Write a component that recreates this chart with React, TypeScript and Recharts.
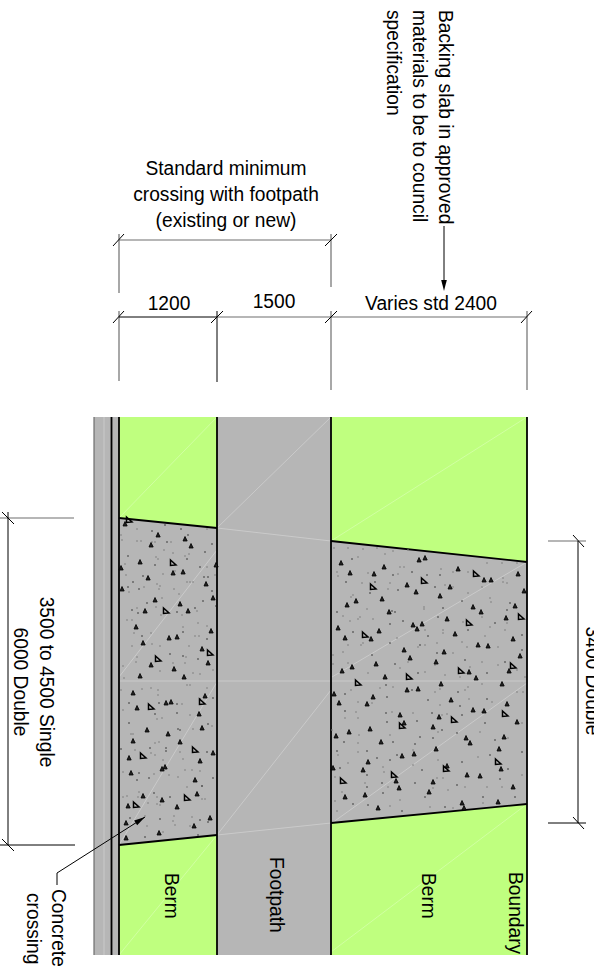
import { ComposedChart, XAxis, YAxis, Area, Line, Scatter } from 'recharts';

const WIDTH = 594;
const HEIGHT = 968;
const BLACK = '#000000';
const DIM = '#6e6e6e';
const GREY_FILL = '#b6b6b6';
const GREEN_FILL = '#bfff7f';
const FONT = '"Liberation Sans", Arial, sans-serif';

// [x, top, bottom] in drawing units
const greyStrips = [
  [[94, 417, 955], [217, 417, 955]],
  [[217, 417, 955], [331, 417, 955]],
];
const greenStrips = [
  [[119, 417, 955], [217, 417, 955]],
  [[331, 417, 955], [527, 417, 955]],
];
const crossings = [
  [[119, 518, 845], [217, 528, 835]],
  [[331, 541, 823], [527, 562, 804]],
];

const blackLines = [
  [[111.5, 417], [111.5, 955]],
  [[119, 417], [119, 955]],
  [[217, 417], [217, 955]],
  [[331, 417], [331, 955]],
  [[527, 417], [527, 955]],
  [[119, 518], [217, 528]],
  [[119, 845], [217, 835]],
  [[331, 541], [527, 562]],
  [[331, 823], [527, 804]],
];
const thinBlackLines = [
  [[119, 317], [217, 317]],
  [[217, 311], [217, 382]],
  [[113, 323], [124, 311]],
  [[211, 323], [223, 311]],
  [[325, 323], [337, 311]],
  [[521, 323], [532, 311]],
  [[113, 246], [124, 234]],
  [[325, 246], [337, 234]],
  [[444, 226], [444, 284]],
  [[8, 512], [8, 845]],
  [[0, 845], [75, 845]],
  [[2, 839], [14, 851]],
  [[2, 512], [14, 524]],
  [[578, 541], [578, 823]],
  [[548, 823], [586, 823]],
  [[573, 535], [584, 547]],
  [[573, 817], [584, 829]],
  [[145, 817], [57, 873]],
  [[57, 873], [57, 885]],
];
const dimLines = [
  [[94, 417], [94, 955]],
  [[119, 240], [331, 240]],
  [[119, 234], [119, 293]],
  [[331, 234], [331, 287]],
  [[217, 317], [527, 317]],
  [[119, 311], [119, 381]],
  [[331, 311], [331, 390]],
  [[527, 311], [527, 390]],
  [[0, 518], [74, 518]],
  [[548, 541], [586, 541]],
];
const paleLines = [
  [[104, 417], [104, 955]],
  [[119, 518], [217, 417]],
  [[217, 528], [331, 417]],
  [[331, 541], [527, 417]],
  [[217, 528], [331, 541]],
  [[119, 677], [217, 550]],
  [[332, 677], [527, 562]],
  [[119, 681], [527, 681]],
  [[217, 835], [331, 690]],
  [[119, 845], [217, 682]],
  [[332, 823], [527, 683]],
  [[217, 835], [331, 823]],
  [[217, 835], [119, 955]],
  [[527, 804], [331, 952]],
];

const arrowHeads = [
  { x: 444, y: 291, angle: 0 },
  { x: 145, y: 817, angle: -122 },
];

const smallTriangles = [
  [125, 524], [158, 535], [185, 539], [151, 545], [191, 546], [140, 562], [121, 568], [173, 573], [183, 572], [148, 578],
  [206, 584], [122, 589], [216, 565], [213, 598], [155, 600], [180, 604], [145, 611], [188, 611], [136, 627], [211, 631],
  [169, 638], [177, 637], [143, 643], [202, 649], [151, 665], [208, 663], [174, 669], [140, 676], [184, 677],
  [133, 693], [205, 696], [166, 703], [171, 702], [137, 708], [199, 714], [202, 728], [147, 730], [168, 734], [133, 741],
  [180, 742], [213, 753], [129, 758], [200, 761], [165, 767], [162, 769], [131, 773], [195, 780], [197, 794], [143, 796],
  [162, 800], [128, 806], [177, 807], [210, 818], [126, 823], [194, 826], [159, 833], [126, 838],
  [419, 560], [425, 558], [341, 563], [384, 567], [458, 569], [350, 573], [374, 574], [518, 574], [484, 580], [491, 580],
  [407, 585], [450, 587], [524, 591], [416, 592], [440, 596], [382, 599], [356, 601], [347, 605], [515, 606], [473, 607],
  [389, 612], [481, 612], [506, 618], [447, 619], [422, 624], [413, 625], [338, 628], [417, 629], [379, 631], [455, 634],
  [345, 638], [371, 639], [513, 639], [478, 645], [488, 646], [404, 650], [444, 652], [520, 656], [410, 658], [436, 662],
  [376, 664], [352, 667], [342, 671], [469, 672], [509, 671], [385, 677], [476, 678],
  [441, 684], [502, 684], [334, 694], [407, 690], [418, 689], [373, 697], [451, 700], [339, 703], [367, 704], [507, 704],
  [473, 710], [484, 711], [400, 715], [439, 717], [517, 722], [404, 723], [433, 727], [370, 729], [349, 732], [336, 736],
  [504, 737], [466, 738], [381, 742], [470, 743], [499, 749], [436, 749], [414, 754], [402, 756], [368, 762], [447, 766],
  [333, 768], [363, 770], [501, 769], [467, 775], [480, 776], [396, 781], [433, 782], [399, 788], [513, 787], [429, 792],
  [365, 795], [345, 797], [462, 803], [498, 802], [378, 808], [464, 808],
];
const largeTriangles = [
  [129, 520], [173, 563], [166, 611], [158, 659], [210, 653], [136, 805], [151, 707], [202, 702], [195, 750], [143, 756], [187, 798],
  [476, 574], [424, 581], [373, 587], [365, 635], [469, 623], [521, 617], [461, 671], [513, 666], [409, 677], [358, 683],
  [505, 714], [454, 720], [402, 726], [498, 762], [446, 769], [394, 775], [343, 781],
];
const darkSpecks = [
  [152, 531], [165, 525], [181, 529], [167, 542], [188, 535], [212, 544], [205, 552], [128, 556], [187, 559], [155, 565], [200, 567],
  [143, 576], [133, 582], [208, 577], [204, 577], [128, 587], [139, 589], [212, 591], [147, 603], [203, 601], [216, 606], [132, 610],
  [177, 612], [195, 608], [138, 613], [183, 632], [142, 636], [207, 639], [170, 654], [183, 656], [198, 659],
  [129, 703], [159, 703], [177, 704], [200, 699], [213, 698], [155, 714], [177, 713], [129, 723], [178, 729], [180, 730], [208, 724],
  [121, 749], [150, 748], [166, 748], [166, 751], [207, 752], [119, 768], [139, 773], [149, 778], [213, 778], [137, 780], [202, 786],
  [154, 793], [170, 797], [130, 818], [160, 819], [200, 820], [208, 822], [198, 835], [145, 837],
  [352, 559], [346, 582], [393, 575], [412, 572], [427, 575], [440, 575], [375, 582], [398, 590], [435, 587], [370, 593], [337, 612],
  [392, 611], [395, 612], [443, 608], [462, 601], [507, 610], [510, 603], [403, 621], [438, 617], [495, 623], [390, 624], [353, 632],
  [428, 636], [468, 630], [522, 635], [390, 643], [420, 645], [437, 653], [372, 655], [395, 664], [418, 673], [465, 660], [487, 673],
  [505, 662], [522, 650],
  [345, 694], [386, 685], [412, 690], [428, 700], [458, 692], [487, 699], [387, 697], [460, 706], [345, 711], [386, 713], [387, 722],
  [417, 721], [432, 713], [462, 715], [485, 723], [442, 730], [344, 742], [393, 742], [420, 737], [433, 738], [457, 733], [495, 740],
  [415, 744], [337, 751], [367, 751], [377, 758], [390, 760], [397, 755], [462, 762], [490, 755], [522, 752], [340, 768], [422, 770],
  [367, 775], [382, 783], [415, 783], [457, 785], [500, 779], [508, 769], [367, 787], [383, 793], [425, 797], [483, 797], [515, 797],
  [353, 804], [368, 805], [402, 811], [445, 807],
];
const greySpecks = [
  [137, 529], [121, 535], [122, 540], [207, 529], [137, 541], [141, 541], [152, 542], [155, 542], [171, 542], [164, 550], [173, 553],
  [156, 557], [158, 559], [185, 556], [189, 554], [125, 564], [207, 567], [215, 575], [126, 575], [163, 574], [175, 571], [157, 584],
  [160, 586], [187, 582], [190, 582], [193, 582], [144, 587], [159, 589], [129, 592], [174, 589], [179, 594], [162, 598], [137, 608],
  [156, 607], [197, 611], [161, 615], [182, 615], [127, 620], [132, 620], [198, 623], [207, 626], [183, 627], [134, 633], [151, 633],
  [195, 636], [199, 636], [132, 646], [152, 644], [160, 646], [189, 646], [137, 657], [186, 657], [123, 666], [136, 662], [160, 671],
  [173, 663], [193, 673], [213, 670], [185, 663], [124, 678], [200, 674],
  [121, 690], [142, 689], [158, 690], [158, 695], [151, 688], [207, 688], [187, 685], [190, 685], [182, 704], [123, 710], [157, 719],
  [162, 718], [190, 715], [131, 734], [133, 734], [193, 729], [212, 726], [151, 753], [159, 742], [155, 743], [135, 750], [180, 752],
  [183, 759], [155, 755], [163, 760], [123, 772], [154, 774], [169, 775], [185, 770], [192, 770], [200, 771], [178, 777], [187, 787],
  [202, 786], [139, 792], [123, 797], [127, 796], [138, 797], [157, 797], [202, 799], [205, 799], [157, 804], [148, 803], [160, 805],
  [145, 816], [174, 816], [173, 821], [192, 817], [147, 826], [175, 825], [190, 826], [127, 837], [163, 832],
  [334, 548], [348, 548], [363, 549], [377, 548], [393, 551], [408, 550], [385, 554], [358, 557], [337, 572], [338, 576], [368, 573],
  [398, 574], [400, 567], [404, 567], [441, 569], [453, 572], [468, 572], [487, 563], [502, 563], [517, 563], [503, 578], [503, 582],
  [390, 583], [362, 583], [388, 589], [445, 585], [453, 587], [468, 593], [482, 587], [507, 583], [353, 595], [351, 597], [367, 609],
  [424, 607], [424, 609], [490, 598], [491, 602], [360, 617], [343, 616], [350, 621], [358, 619], [373, 619], [463, 622], [482, 617],
  [490, 627], [507, 623], [425, 630], [443, 630], [443, 633], [505, 630], [397, 638], [363, 643], [348, 645], [361, 645], [437, 643],
  [462, 642], [467, 647], [485, 636], [498, 647], [425, 645], [418, 647], [343, 652], [333, 655], [333, 664], [348, 663], [400, 668],
  [408, 662], [425, 672], [435, 665], [453, 653], [470, 667], [482, 662], [498, 665], [517, 670], [368, 673], [445, 675], [460, 677], [525, 677],
  [351, 690], [380, 688], [393, 687], [435, 692], [440, 689], [465, 690], [468, 687], [482, 684], [517, 692], [523, 692], [358, 702],
  [372, 703], [440, 705], [469, 699], [492, 702], [356, 712], [345, 718], [358, 718], [392, 712], [413, 713], [442, 715], [447, 714],
  [482, 712], [522, 723], [438, 732], [332, 730], [359, 735], [358, 743], [390, 735], [480, 732], [508, 738], [413, 750], [338, 755],
  [358, 752], [438, 760], [478, 757], [348, 763], [413, 765], [383, 767], [384, 772], [335, 777], [365, 783], [388, 787], [437, 778],
  [443, 778], [465, 787], [487, 787], [522, 775], [342, 792], [433, 788], [448, 790], [502, 787], [335, 801], [390, 806], [430, 807],
  [453, 808], [400, 800], [337, 811], [483, 803],
];

const flatLabels = [
  { x: 226, y: 175, text: 'Standard minimum' },
  { x: 226, y: 201, text: 'crossing with footpath' },
  { x: 226, y: 227, text: '(existing or new)' },
  { x: 169, y: 310, text: '1200' },
  { x: 274, y: 308, text: '1500' },
  { x: 431, y: 310, text: 'Varies std 2400' },
];
const turnedLabels = [
  { x: 439, y: 10, text: 'Backing slab in approved', middle: false },
  { x: 413, y: 10, text: 'materials to be to council', middle: false },
  { x: 387, y: 10, text: 'specification', middle: false },
  { x: 40, y: 682, text: '3500 to 4500 Single', middle: true },
  { x: 14, y: 682, text: '6000 Double', middle: true },
  { x: 586, y: 681, text: '3400 Double', middle: true },
  { x: 52, y: 889, text: 'Concrete', middle: false },
  { x: 27, y: 893, text: 'crossing', middle: false },
  { x: 165, y: 873, text: 'Berm', middle: false },
  { x: 270, y: 857, text: 'Footpath', middle: false },
  { x: 422, y: 873, text: 'Berm', middle: false },
  { x: 509, y: 872, text: 'Boundary', middle: false },
];

const toBand = (strip: number[][]) => strip.map(([x, top, bottom]) => ({ x, band: [top, bottom] }));
const toPoints = (pts: number[][]) => pts.map(([x, y]) => ({ x, y }));

function FlatText(props: any) {
  const { cx, cy, payload } = props;
  return (
    <text transform={`translate(${cx} ${cy}) scale(0.96 1)`} textAnchor="middle" fontFamily={FONT} fontSize={20} fill={BLACK}>
      {payload.text}
    </text>
  );
}

function TurnedText(props: any) {
  const { cx, cy, payload } = props;
  return (
    <text
      transform={`translate(${cx} ${cy}) rotate(90) scale(0.96 1)`}
      textAnchor={payload.middle ? 'middle' : 'start'}
      fontFamily={FONT}
      fontSize={20}
      fill={BLACK}
    >
      {payload.text}
    </text>
  );
}

function SmallTriangle({ cx, cy }: any) {
  return <path d={`M${cx - 2},${cy + 2} L${cx},${cy - 2.5} L${cx + 2.2},${cy + 2} Z`} fill="#222" stroke={BLACK} strokeWidth={0.8} />;
}

function LargeTriangle({ cx, cy }: any) {
  return <path d={`M${cx - 2.5},${cy - 3} L${cx + 3},${cy + 2} L${cx - 2.5},${cy + 2.5} Z`} fill="none" stroke={BLACK} strokeWidth={1.5} />;
}

function Speck({ cx, cy, fill, side }: any) {
  return <rect x={cx - side / 2} y={cy - side / 2} width={side} height={side} fill={fill} />;
}

function ArrowHead({ cx, cy, payload }: any) {
  return <path d={`M${cx},${cy} L${cx - 2.8},${cy - 11} L${cx + 2.8},${cy - 11} Z`} fill={BLACK} transform={`rotate(${payload.angle} ${cx} ${cy})`} />;
}

function lineSet(name: string, segments: number[][][], stroke: string, width: number, opacity = 1) {
  return segments.map((seg, i) => (
    <Line
      key={`${name}-${i}`}
      data={toPoints(seg)}
      dataKey="y"
      type="linear"
      stroke={stroke}
      strokeWidth={width}
      strokeOpacity={opacity}
      dot={false}
      activeDot={false}
      isAnimationActive={false}
    />
  ));
}

function bandSet(name: string, strips: number[][][], fill: string) {
  return strips.map((strip, i) => (
    <Area
      key={`${name}-${i}`}
      data={toBand(strip)}
      dataKey="band"
      type="linear"
      stroke="none"
      fill={fill}
      fillOpacity={1}
      dot={false}
      activeDot={false}
      isAnimationActive={false}
    />
  ));
}

export default function App() {
  return (
    <div style={{ position: 'absolute', left: 0, top: 0, width: WIDTH, height: HEIGHT, overflow: 'hidden', background: '#fff' }}>
      <ComposedChart width={WIDTH} height={HEIGHT} margin={{ top: 0, right: 0, bottom: 0, left: 0 }}>
        <XAxis type="number" dataKey="x" domain={[0, WIDTH]} hide allowDataOverflow />
        <YAxis type="number" domain={[0, HEIGHT]} reversed hide allowDataOverflow />
        {bandSet('grey', greyStrips, GREY_FILL)}
        {bandSet('green', greenStrips, GREEN_FILL)}
        {bandSet('crossing', crossings, GREY_FILL)}
        {lineSet('pale', paleLines, '#ffffff', 0.7, 0.4)}
        <Scatter data={toPoints(greySpecks)} dataKey="y" shape={(p: any) => <Speck {...p} fill="#808080" side={1.4} />} isAnimationActive={false} />
        <Scatter data={toPoints(darkSpecks)} dataKey="y" shape={(p: any) => <Speck {...p} fill="#111" side={1.2} />} isAnimationActive={false} />
        <Scatter data={toPoints(smallTriangles)} dataKey="y" shape={SmallTriangle} isAnimationActive={false} />
        <Scatter data={toPoints(largeTriangles)} dataKey="y" shape={LargeTriangle} isAnimationActive={false} />
        {lineSet('dim', dimLines, DIM, 1.2)}
        {lineSet('thin', thinBlackLines, BLACK, 1)}
        {lineSet('black', blackLines, BLACK, 1.8)}
        <Scatter data={arrowHeads} dataKey="y" shape={ArrowHead} isAnimationActive={false} />
        <Scatter data={flatLabels} dataKey="y" shape={FlatText} isAnimationActive={false} />
        <Scatter data={turnedLabels} dataKey="y" shape={TurnedText} isAnimationActive={false} />
      </ComposedChart>
    </div>
  );
}
